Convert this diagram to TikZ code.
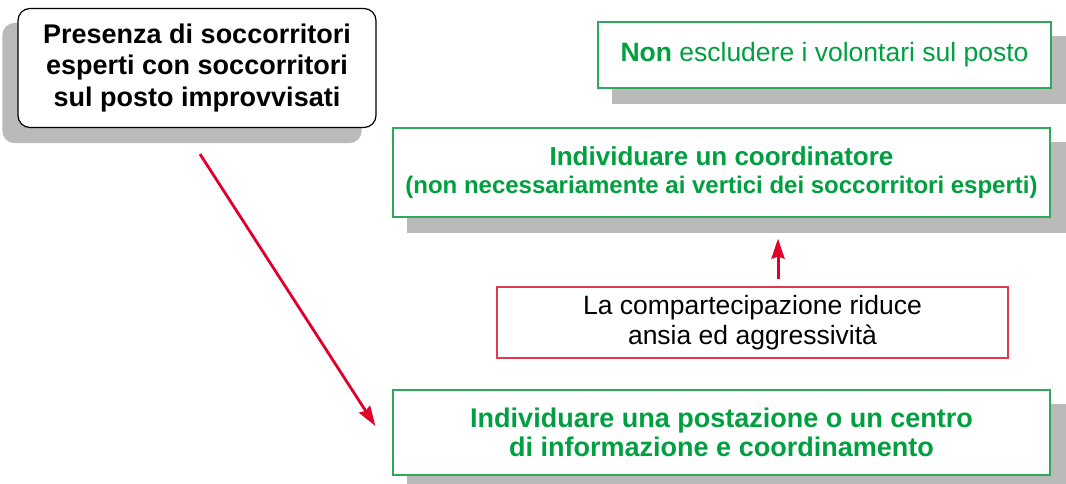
\documentclass[tikz,border=0pt]{standalone}
\usepackage{fontspec}
\setmainfont{Liberation Sans}
\usepackage{tikz}
\usetikzlibrary{arrows.meta}
\usetikzlibrary{backgrounds}
\usetikzlibrary{calc}

\definecolor{boxgreen}{HTML}{2EA85A}
\definecolor{textgreen}{HTML}{00A040}
\definecolor{arrowred}{HTML}{E0002A}
\definecolor{boxred}{HTML}{E03A52}
\definecolor{shadowgray}{HTML}{BABABA}

\tikzset{
	greenbox/.style={draw=boxgreen, line width=1.2pt, fill=white, align=center,
	                 text=textgreen, inner sep=0pt},
	redarrow/.style={draw=arrowred, line width=2.8pt,
	                 -{Stealth[length=20pt, width=13pt, inset=2pt]}}
}

\begin{document}
\begin{tikzpicture}[x=1pt, y=-1pt]
	\useasboundingbox (0,0) rectangle (1066,484);

	\node[draw=black, line width=1.2pt, rounded corners=12pt, fill=white,
	      minimum width=358pt, minimum height=119pt, align=center, inner sep=0pt,
	      font=\fontsize{27}{31.5}\selectfont\bfseries] (1) at (197,68)
	      {Presenza di soccorritori\\esperti con soccorritori\\sul posto improvvisati};
	\node[greenbox, minimum width=453pt, minimum height=66pt,
	      font=\fontsize{26.5}{30}\selectfont] (2) at (824.5,55)
	      {\textbf{Non} escludere i volontari sul posto};
	\node[greenbox, minimum width=657pt, minimum height=89pt,
	      font=\fontsize{24}{28}\selectfont\bfseries] (3) at (721.5,172.5)
	      {{\fontsize{26}{28}\selectfont Individuare un coordinatore}\\(non necessariamente ai vertici dei soccorritori esperti)};
	\node[draw=boxred, line width=1.2pt, fill=white, align=center, inner sep=0pt,
	      minimum width=511pt, minimum height=71pt,
	      font=\fontsize{26.5}{30}\selectfont] (4) at (752.5,322.5)
	      {La compartecipazione riduce\\ansia ed aggressivit\`a};
	\node[greenbox, minimum width=657pt, minimum height=85pt,
	      font=\fontsize{27}{29.5}\selectfont\bfseries] (5) at (721.5,432.5)
	      {Individuare una postazione o un centro\\di informazione e coordinamento};

	% shadows
	\begin{scope}[on background layer]
		\fill[shadowgray, rounded corners=12pt] ($(1.south west)+(-15,15)$) rectangle ($(1.north east)+(-15,15)$);
		\foreach \i in {2,3,5} {
			\fill[shadowgray] ($(\i.south west)+(15,15)$) rectangle ($(\i.north east)+(15,15)$);
		}
	\end{scope}

	\draw[redarrow] ([xshift=3pt, yshift=-26pt]1.south) -- ([xshift=-17pt, yshift=6.5pt]5.west);
	\draw[redarrow, line width=3pt] ([xshift=25.5pt, yshift=7pt]4.north) -- ([xshift=56.5pt, yshift=-21pt]3.south);
\end{tikzpicture}
\end{document}
